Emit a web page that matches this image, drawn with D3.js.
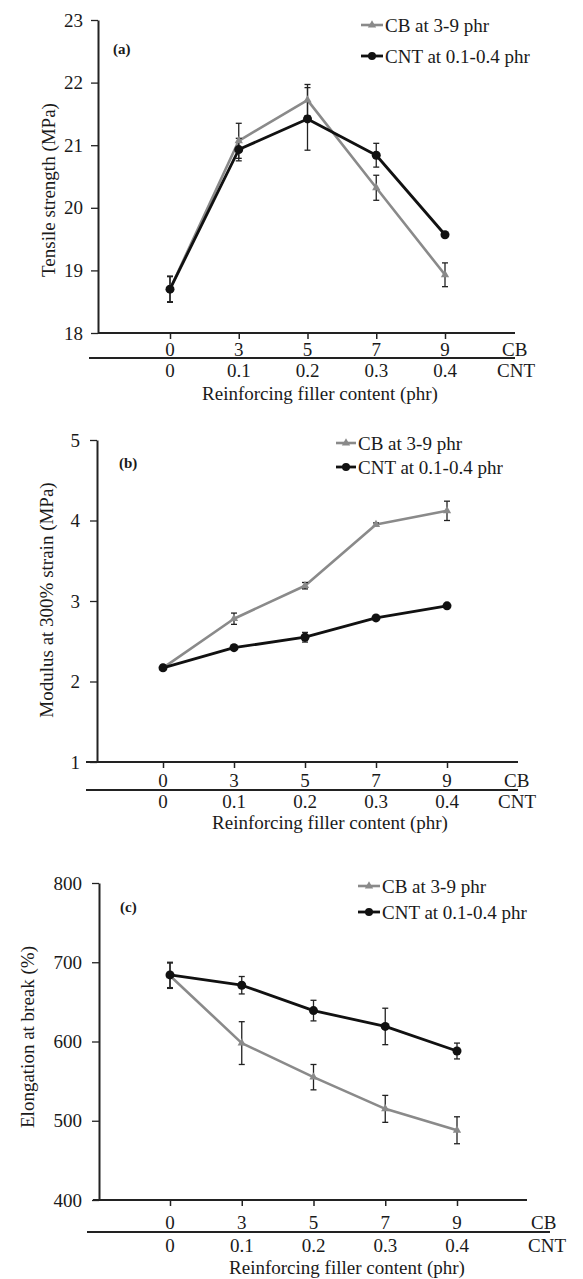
<!DOCTYPE html>
<html>
<head>
<meta charset="utf-8">
<script src="https://cdn.jsdelivr.net/npm/d3@7"></script>
<style>
  body { margin: 0; background: #fff; }
  text { font-family: "Liberation Serif", "Times New Roman", serif; fill: #1a1a1a; }
</style>
</head>
<body>
<svg id="chart" width="583" height="1279"></svg>
<script>
// filler levels on the two stacked x axes
const cbLevels = ["0", "3", "5", "7", "9"]
const cntLevels = ["0", "0.1", "0.2", "0.3", "0.4"]
const seriesNames = ["CB at 3-9 phr", "CNT at 0.1-0.4 phr"]

// (a) tensile strength, MPa
const tensileCB = [18.7, 21.07, 21.72, 20.32, 18.93]
const tensileCBErr = [0.2, 0.28, 0.25, 0.2, 0.19]
const tensileCNT = [18.7, 20.93, 21.42, 20.84, 19.57]
const tensileCNTErr = [0.21, 0.18, 0.5, 0.19, 0.02]

// (b) modulus at 300% strain, MPa
const modulusCB = [2.17, 2.78, 3.19, 3.95, 4.12]
const modulusCBErr = [0.03, 0.07, 0.04, 0.02, 0.12]
const modulusCNT = [2.17, 2.42, 2.55, 2.79, 2.94]
const modulusCNTErr = [0.03, 0.03, 0.06, 0.02, 0.02]

// (c) elongation at break, %
const elongCB = [683, 598, 555, 515, 488]
const elongCBErr = [16, 27, 16, 17, 17]
const elongCNT = [684, 671, 639, 619, 588]
const elongCNTErr = [16, 11, 13, 23, 10]

const grey = "#8a8a8a"
const black = "#111"

const svg = d3.select("#chart")

// layout of each panel (pixels)
const panels = [
  {
    tag: "(a)", yTitle: "Tensile strength (MPa)",
    domain: [18, 23], ticks: [18, 19, 20, 21, 22, 23],
    cb: tensileCB, cbErr: tensileCBErr, cnt: tensileCNT, cntErr: tensileCNTErr,
    yTop: 20, yBot: 333, axisX: 98, lineStart: 98, lineEnd: 515,
    xFirst: 170, xLast: 445, tickPad: 8,
    line2Y: 358, line2Start: 89, line2End: 515,
    cbBase: 356, cntBase: 377, titleBase: 400, titleX: 320, unitX: 502, cntUnitX: 497,
    legX0: 361, legX1: 383, legY1: 25, legY2: 56, tagX: 113, tagY: 54,
    yLabX: 55, yLabY: 190
  },
  {
    tag: "(b)", yTitle: "Modulus at 300% strain (MPa)",
    domain: [1, 5], ticks: [1, 2, 3, 4, 5],
    cb: modulusCB, cbErr: modulusCBErr, cnt: modulusCNT, cntErr: modulusCNTErr,
    yTop: 440, yBot: 762, axisX: 97, lineStart: 86, lineEnd: 518,
    xFirst: 163, xLast: 447, tickPad: 10,
    line2Y: 790, line2Start: 86, line2End: 518,
    cbBase: 787, cntBase: 808, titleBase: 829, titleX: 330, unitX: 504, cntUnitX: 498,
    legX0: 336, legX1: 356, legY1: 443, legY2: 467, tagX: 119, tagY: 468,
    yLabX: 53, yLabY: 600
  },
  {
    tag: "(c)", yTitle: "Elongation at break (%)",
    domain: [400, 800], ticks: [400, 500, 600, 700, 800],
    cb: elongCB, cbErr: elongCBErr, cnt: elongCNT, cntErr: elongCNTErr,
    yTop: 883, yBot: 1200, axisX: 99, lineStart: 93, lineEnd: 527,
    xFirst: 170, xLast: 457, tickPad: 10,
    line2Y: 1232, line2Start: 87, line2End: 550,
    cbBase: 1229, cntBase: 1252, titleBase: 1274, titleX: 347, unitX: 531, cntUnitX: 528,
    legX0: 358, legX1: 380, legY1: 886, legY2: 912, tagX: 120, tagY: 912,
    yLabX: 34, yLabY: 1037
  }
]

const triangle = d3.symbol().type(d3.symbolTriangle).size(30)

function drawPanel(p) {
  const g = svg.append("g")

  const y = d3.scaleLinear().domain(p.domain).range([p.yBot, p.yTop])
  const x = d3.scalePoint().domain(cbLevels).range([p.xFirst, p.xLast])

  // y axis
  const yAxis = g.append("g")
    .attr("transform", "translate(" + p.axisX + ",0)")
    .call(d3.axisLeft(y).tickValues(p.ticks).tickFormat(d3.format("d"))
      .tickSize(7).tickSizeOuter(0).tickPadding(p.tickPad))
  yAxis.select(".domain").attr("stroke", "#222").attr("stroke-width", 2)
  yAxis.selectAll(".tick line").attr("stroke", "#222").attr("stroke-width", 1.3)
  yAxis.selectAll(".tick text")
    .attr("font-family", "Liberation Serif, Times New Roman, serif")
    .attr("font-size", 19).attr("fill", "#1a1a1a")

  // x axis line + ticks
  g.append("line")
    .attr("x1", p.lineStart).attr("x2", p.lineEnd)
    .attr("y1", p.yBot).attr("y2", p.yBot)
    .attr("stroke", "#222").attr("stroke-width", 2)
  const xAxis = g.append("g")
    .attr("transform", "translate(0," + p.yBot + ")")
    .call(d3.axisBottom(x).tickSize(6).tickFormat(""))
  xAxis.select(".domain").remove()
  xAxis.selectAll(".tick line").attr("stroke", "#222").attr("stroke-width", 1.5)

  // second rule between CB and CNT rows
  g.append("line")
    .attr("x1", p.line2Start).attr("x2", p.line2End)
    .attr("y1", p.line2Y).attr("y2", p.line2Y)
    .attr("stroke", "#222").attr("stroke-width", 1.8)

  g.selectAll(".cbLab").data(cbLevels).enter().append("text")
    .attr("x", d => x(d)).attr("y", p.cbBase)
    .attr("text-anchor", "middle").attr("font-size", 19)
    .text(d => d)
  g.selectAll(".cntLab").data(cntLevels).enter().append("text")
    .attr("x", (d, i) => x(cbLevels[i])).attr("y", p.cntBase)
    .attr("text-anchor", "middle").attr("font-size", 19)
    .text(d => d)
  g.append("text").attr("x", p.unitX).attr("y", p.cbBase).attr("font-size", 19).text("CB")
  g.append("text").attr("x", p.cntUnitX).attr("y", p.cntBase).attr("font-size", 19).text("CNT")

  g.append("text")
    .attr("x", p.titleX).attr("y", p.titleBase)
    .attr("text-anchor", "middle").attr("font-size", 19)
    .text("Reinforcing filler content (phr)")

  g.append("text")
    .attr("transform", "translate(" + p.yLabX + "," + p.yLabY + ") rotate(-90)")
    .attr("text-anchor", "middle").attr("font-size", 19)
    .text(p.yTitle)

  g.append("text")
    .attr("x", p.tagX).attr("y", p.tagY)
    .attr("font-size", 15).attr("font-weight", "bold")
    .text(p.tag)

  const line = d3.line().x((d, i) => x(cbLevels[i])).y(d => y(d))

  const series = [
    { vals: p.cb, err: p.cbErr, color: grey, width: 2.6 },
    { vals: p.cnt, err: p.cntErr, color: black, width: 2.8 }
  ]

  series.forEach(s => {
    g.append("path")
      .attr("d", line(s.vals))
      .attr("fill", "none")
      .attr("stroke", s.color)
      .attr("stroke-width", s.width)
      .attr("stroke-linejoin", "round")
  })

  // error bars
  series.forEach(s => {
    const eb = g.append("g").attr("stroke", "#222").attr("stroke-width", 1.3)
    s.vals.forEach((v, i) => {
      const cx = x(cbLevels[i])
      const lo = y(v - s.err[i]), hi = y(v + s.err[i])
      eb.append("line").attr("x1", cx).attr("x2", cx).attr("y1", lo).attr("y2", hi)
      eb.append("line").attr("x1", cx - 3).attr("x2", cx + 3).attr("y1", lo).attr("y2", lo)
      eb.append("line").attr("x1", cx - 3).attr("x2", cx + 3).attr("y1", hi).attr("y2", hi)
    })
  })

  // markers
  g.selectAll(".tri").data(p.cb).enter().append("path")
    .attr("d", triangle)
    .attr("transform", (d, i) => "translate(" + x(cbLevels[i]) + "," + y(d) + ")")
    .attr("fill", grey)
  g.selectAll(".dot").data(p.cnt).enter().append("circle")
    .attr("cx", (d, i) => x(cbLevels[i]))
    .attr("cy", d => y(d))
    .attr("r", 4.5)
    .attr("fill", black)

  // legend
  const legMid = (p.legX0 + p.legX1) / 2
  g.append("line").attr("x1", p.legX0).attr("x2", p.legX1)
    .attr("y1", p.legY1).attr("y2", p.legY1)
    .attr("stroke", grey).attr("stroke-width", 2.6)
  g.append("path").attr("d", triangle)
    .attr("transform", "translate(" + legMid + "," + p.legY1 + ")")
    .attr("fill", grey)
  g.append("text").attr("x", p.legX1 + 2).attr("y", p.legY1 + 6.5)
    .attr("font-size", 19).text(seriesNames[0])

  g.append("line").attr("x1", p.legX0).attr("x2", p.legX1)
    .attr("y1", p.legY2).attr("y2", p.legY2)
    .attr("stroke", black).attr("stroke-width", 2.8)
  g.append("circle").attr("cx", legMid).attr("cy", p.legY2).attr("r", 4).attr("fill", black)
  g.append("text").attr("x", p.legX1 + 2).attr("y", p.legY2 + 6.5)
    .attr("font-size", 19).text(seriesNames[1])
}

panels.forEach(drawPanel)
</script>
</body>
</html>
